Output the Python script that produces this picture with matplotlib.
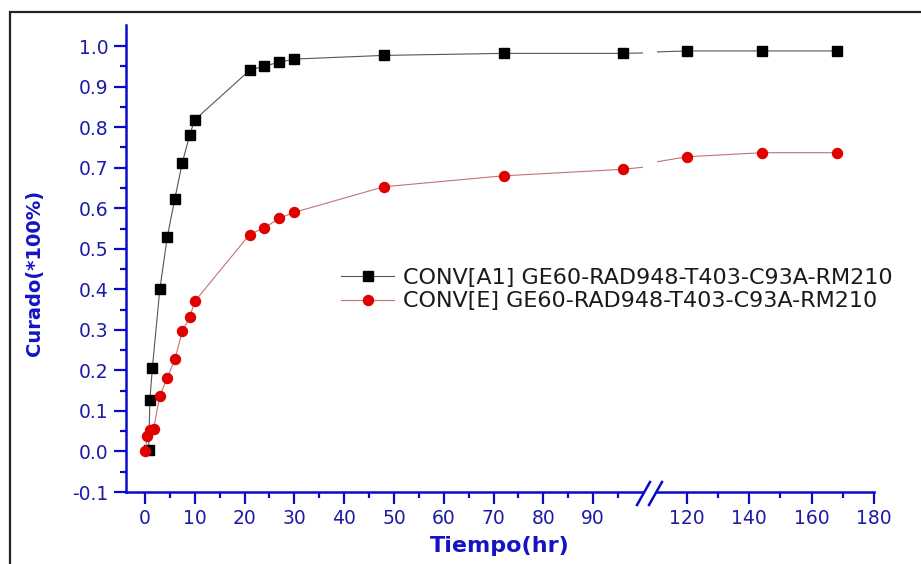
import matplotlib
matplotlib.use("Agg")
import matplotlib.pyplot as plt
from matplotlib.lines import Line2D
from matplotlib.patches import Rectangle

plt.rcParams['font.family'] = ['DejaVu Sans']

# ---- data ----
t_a1 = [0.75, 1, 1.5, 3, 4.5, 6, 7.5, 9, 10, 21, 24, 27, 30, 48, 72, 96, 120, 144, 168]
y_a1 = [0.003, 0.128, 0.207, 0.401, 0.530, 0.623, 0.712, 0.781, 0.818, 0.940, 0.951,
        0.960, 0.968, 0.977, 0.982, 0.982, 0.988, 0.988, 0.988]
t_e = [0, 0.5, 1.1, 1.75, 3, 4.5, 6, 7.5, 9, 10, 21, 24, 27, 30, 48, 72, 96, 120, 144, 168]
y_e = [0.0, 0.038, 0.053, 0.056, 0.138, 0.182, 0.227, 0.296, 0.332, 0.370, 0.535, 0.552,
       0.575, 0.590, 0.653, 0.680, 0.696, 0.727, 0.737, 0.737]
label_a1 = "CONV[A1] GE60-RAD948-T403-C93A-RM210"
label_e = "CONV[E] GE60-RAD948-T403-C93A-RM210"
yticks = [-0.1, 0.0, 0.1, 0.2, 0.3, 0.4, 0.5, 0.6, 0.7, 0.8, 0.9, 1.0]
xticks1 = [0, 10, 20, 30, 40, 50, 60, 70, 80, 90]
xticks2 = [120, 140, 160, 180]
xlabel = "Tiempo(hr)"
ylabel = "Curado(*100%)"

W, H = 921, 564
fig = plt.figure(figsize=(W / 100, H / 100), dpi=100)

AX_BLUE = '#0a0acc'
LBL_BLUE = '#1c1ca6'
TITLE_BLUE = '#1414c4'

def fx(px):
    return px / W

def fy(py):
    return 1 - py / H

bottom_px, top_px = 492, 25
ax1 = fig.add_axes([fx(126), fy(bottom_px), fx(643) - fx(126), fy(top_px) - fy(bottom_px)])
ax2 = fig.add_axes([fx(657), fy(bottom_px), fx(874) - fx(657), fy(top_px) - fy(bottom_px)])

for ax in (ax1, ax2):
    ax.set_facecolor('none')
    ax.plot(t_a1, y_a1, color='#555555', lw=0.8, marker='s', ms=6.6,
            mfc='black', mec='black', label=label_a1)
    ax.plot(t_e, y_e, color='#c47272', lw=0.8, marker='o', ms=7.2,
            mfc='#e00000', mec='#e00000', label=label_e)
    ax.set_ylim(-0.1, 1.052)
    for s in ('top', 'right'):
        ax.spines[s].set_visible(False)
    ax.spines['bottom'].set_color(AX_BLUE)
    ax.spines['bottom'].set_linewidth(1.8)
    ax.spines['left'].set_color(AX_BLUE)
    ax.spines['left'].set_linewidth(1.8)
    ax.tick_params(which='major', direction='out', length=8.5, width=1.6,
                   color=AX_BLUE, labelcolor=LBL_BLUE, labelsize=13.5, pad=4)
    ax.tick_params(which='minor', direction='out', length=4.5, width=1.6, color=AX_BLUE)

ax1.set_xlim(-3.8, 100)
ax1.set_xticks(xticks1)
ax1.set_xticks([5, 15, 25, 35, 45, 55, 65, 75, 85, 95], minor=True)
ax1.set_yticks(yticks)
ax1.set_yticklabels([f"{v:.1f}" for v in yticks])
ax1.set_yticks([-0.05 + 0.1 * i for i in range(11)], minor=True)

ax2.set_xlim(110.4, 180)
ax2.set_xticks(xticks2)
ax2.set_xticks([130, 150, 170], minor=True)
ax2.spines['left'].set_visible(False)
ax2.tick_params(axis='y', which='both', left=False, labelleft=False)

# break marks
for cx in (643.5, 655.5):
    fig.add_artist(Line2D([fx(cx - 6.5), fx(cx + 6.5)], [fy(505), fy(482)],
                          color=AX_BLUE, lw=1.8))

# axis labels
fig.text(fx(500), fy(536), xlabel, ha='center', va='top', fontsize=16,
         fontweight='bold', color=TITLE_BLUE)
fig.text(fx(34), fy(273), ylabel, ha='center', va='center', rotation=90,
         fontsize=14, fontweight='bold', color=TITLE_BLUE)

# legend
h, l = ax1.get_legend_handles_labels()
leg = fig.legend(h, l, loc='upper left', bbox_to_anchor=(fx(341), fy(268)),
                 frameon=False, fontsize=16, handlelength=2.4, handletextpad=0.4,
                 labelspacing=0.15, borderpad=0, borderaxespad=0)
for txt in leg.get_texts():
    txt.set_color('#1a1a1a')

# outer frame
fig.add_artist(Rectangle((fx(10), -0.05), 1.2, fy(12) + 0.05, transform=fig.transFigure,
                         fill=False, edgecolor='#222222', lw=1.6))

fig.savefig('out.png', dpi=100)
